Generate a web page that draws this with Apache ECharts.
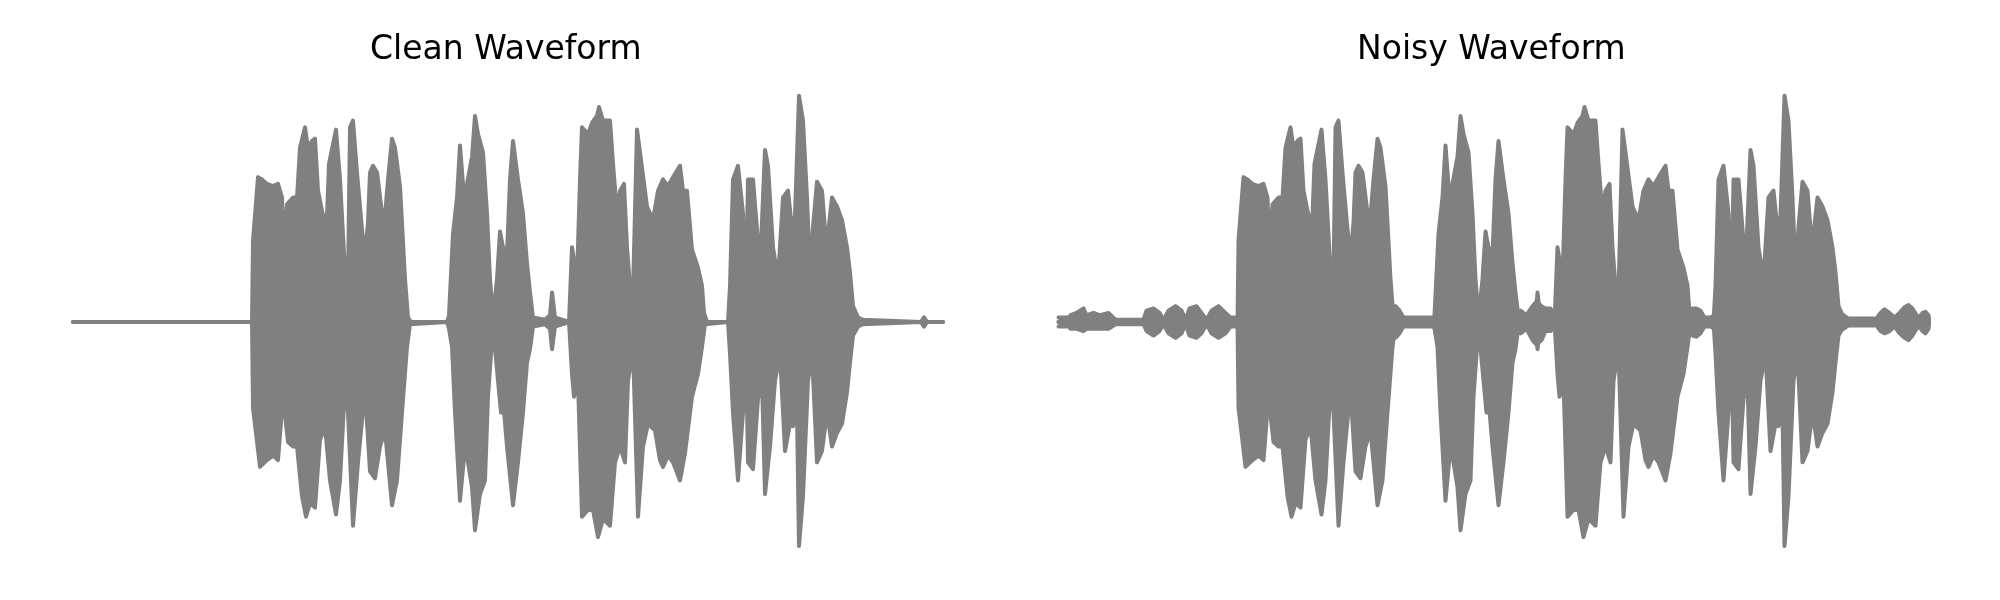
<!DOCTYPE html>
<html>
<head>
<meta charset="utf-8">
<script src="https://cdn.jsdelivr.net/npm/echarts@6/dist/echarts.min.js"></script>
<style>
  html, body { margin: 0; padding: 0; background: #ffffff; }
  #chart { width: 2000px; height: 600px; }
</style>
</head>
<body>
<div id="chart"></div>
<script>
// Panel titles
const titles = ['Clean Waveform', 'Noisy Waveform'];

// Time in frames (0..870); amplitude normalised to the peak (~1.0).
// Upper envelope of the clean speech waveform: [frame, amplitude]
const cleanUpper = [
  [0,0],[179,0],[180,0.36],[185,0.64],[189,0.63],[194,0.61],[200,0.60],[205,0.61],[209,0.55],[211,0.33],[214,0.52],[220,0.55],[224,0.55],
  [227,0.77],[232,0.86],[235,0.77],[239,0.80],[242,0.81],[245,0.58],[250,0.47],[254,0.47],[256,0.70],[263,0.85],[267,0.63],[272,0.22],
  [275,0.19],[277,0.86],[280,0.89],[284,0.66],[289,0.41],[292,0.29],[295,0.44],[297,0.66],[300,0.69],[304,0.66],[309,0.48],[312,0.47],
  [315,0.63],[319,0.81],[322,0.77],[327,0.60],[332,0.19],[335,0.02],[338,0],[374,0],[376,0.03],[380,0.39],[384,0.55],[387,0.78],
  [391,0.55],[394,0.61],[399,0.73],[402,0.91],[405,0.83],[410,0.75],[414,0.48],[417,0.19],[420,0.02],[424,0.19],[427,0.40],[430,0.33],
  [434,0.30],[437,0.63],[440,0.80],[445,0.63],[450,0.48],[454,0.26],[457,0.13],[460,0.02],[472,0.01],[477,0.03],[479,0.13],[480,0.13],
  [482,0.02],[496,0],[499,0.33],[501,0.33],[504,0.19],[507,0.63],[509,0.86],[515,0.83],[519,0.88],[524,0.91],[526,0.95],[530,0.89],
  [537,0.89],[540,0.70],[544,0.48],[547,0.58],[551,0.61],[554,0.33],[557,0.16],[560,0.13],[564,0.85],[567,0.75],[574,0.51],[580,0.45],
  [585,0.58],[590,0.63],[595,0.60],[600,0.64],[607,0.69],[610,0.58],[614,0.58],[619,0.32],[625,0.24],[629,0.16],[631,0.04],[634,0],
  [655,0],[657,0.16],[660,0.63],[665,0.69],[670,0.48],[673,0.13],[675,0.63],[680,0.63],[684,0.41],[687,0.24],[692,0.76],[695,0.69],
  [700,0.33],[705,0.19],[710,0.55],[715,0.58],[719,0.41],[722,0.47],[726,1.00],[730,0.89],[734,0.55],[737,0.22],[740,0.42],[744,0.62],
  [749,0.58],[752,0.41],[755,0.39],[759,0.55],[764,0.51],[769,0.45],[774,0.33],[777,0.22],[780,0.07],[785,0.02],[790,0.01],[848,0],
  [851,0.02],[854,0],[870,0]
];

// Lower envelope of the clean speech waveform: [frame, amplitude]
const cleanLower = [
  [0,0],[179,0],[180,-0.38],[187,-0.64],[194,-0.61],[200,-0.59],[205,-0.61],[210,-0.33],[215,-0.53],[220,-0.55],[224,-0.55],[229,-0.77],
  [233,-0.86],[237,-0.80],[242,-0.82],[247,-0.52],[252,-0.46],[257,-0.70],[263,-0.85],[267,-0.70],[273,-0.20],[275,-0.20],[280,-0.90],
  [285,-0.62],[292,-0.30],[297,-0.66],[302,-0.69],[307,-0.55],[312,-0.48],[319,-0.81],[324,-0.70],[329,-0.40],[334,-0.11],[337,-0.01],
  [374,0],[376,-0.03],[379,-0.11],[382,-0.40],[387,-0.79],[392,-0.55],[395,-0.62],[399,-0.73],[402,-0.92],[407,-0.76],[412,-0.70],
  [415,-0.33],[420,-0.02],[425,-0.26],[428,-0.40],[430,-0.34],[434,-0.55],[440,-0.81],[445,-0.62],[450,-0.40],[454,-0.18],[457,-0.12],
  [460,-0.02],[472,-0.01],[477,-0.03],[479,-0.12],[480,-0.12],[482,-0.02],[496,0],[499,-0.23],[501,-0.33],[505,-0.26],[509,-0.86],
  [515,-0.83],[520,-0.83],[525,-0.95],[530,-0.87],[537,-0.90],[542,-0.62],[547,-0.55],[552,-0.62],[555,-0.26],[560,-0.12],[565,-0.86],
  [570,-0.55],[575,-0.45],[582,-0.48],[587,-0.61],[590,-0.64],[595,-0.59],[600,-0.62],[607,-0.70],[612,-0.58],[619,-0.33],[625,-0.23],
  [629,-0.11],[632,-0.01],[655,0],[657,-0.14],[660,-0.40],[665,-0.70],[670,-0.40],[673,-0.11],[675,-0.62],[680,-0.65],[685,-0.34],
  [689,-0.26],[692,-0.76],[697,-0.55],[702,-0.26],[707,-0.14],[712,-0.57],[717,-0.45],[720,-0.46],[724,-0.40],[726,-0.99],[730,-0.77],
  [735,-0.26],[739,-0.14],[744,-0.62],[749,-0.57],[754,-0.40],[759,-0.55],[764,-0.49],[769,-0.45],[774,-0.31],[777,-0.18],[780,-0.06],
  [785,-0.02],[790,-0.01],[848,0],[851,-0.02],[854,0],[870,0]
];

// Added background noise visible in the silent gaps of the noisy recording
const noiseUpper = [
  [0,0.02],[10,0.02],[12,0.03],[18,0.04],[25,0.06],[28,0.03],[35,0.04],[41,0.03],[50,0.04],[57,0.01],[85,0.01],[88,0.05],[95,0.06],
  [101,0.04],[105,0.01],[110,0.05],[117,0.07],[123,0.05],[127,0.01],[131,0.06],[138,0.07],[143,0.04],[148,0.01],[153,0.05],[160,0.07],
  [167,0.04],[172,0.02],[181,0.02],[182,'-'],
  [333,0.05],[337,0.07],[341,0.05],[345,0.02],[360,0.02],[378,0.02],[379,'-'],
  [458,0.03],[462,0.05],[468,0.03],[474,0.07],[478,0.09],[483,0.07],[487,0.06],[492,0.06],[496,0.03],[499,0.02],[500,'-'],
  [630,0.05],[634,0.06],[638,0.06],[642,0.05],[646,0.02],[652,0.02],[656,0.03],[657,'-'],
  [778,0.05],[785,0.03],[790,0.015],[818,0.015],[822,0.04],[826,0.056],[831,0.04],[836,0.02],[841,0.04],[846,0.065],[850,0.075],
  [854,0.06],[858,0.03],[861,0.02],[864,0.04],[867,0.045],[870,0.03],[871,0]
];
const noiseLower = [
  [0,-0.02],[10,-0.02],[12,-0.03],[18,-0.03],[25,-0.04],[28,-0.03],[35,-0.03],[41,-0.03],[50,-0.03],[57,-0.01],[85,-0.01],[88,-0.04],
  [95,-0.06],[101,-0.04],[105,-0.01],[110,-0.05],[117,-0.07],[123,-0.05],[127,-0.01],[131,-0.06],[138,-0.07],[143,-0.05],[148,-0.01],
  [153,-0.05],[160,-0.07],[167,-0.05],[172,-0.02],[181,-0.02],[182,'-'],
  [333,-0.05],[337,-0.07],[341,-0.05],[345,-0.02],[360,-0.02],[378,-0.02],[379,'-'],
  [458,-0.03],[462,-0.05],[468,-0.03],[474,-0.08],[478,-0.10],[483,-0.08],[487,-0.04],[492,-0.04],[496,-0.02],[499,-0.02],[500,'-'],
  [630,-0.05],[634,-0.06],[638,-0.065],[642,-0.05],[646,-0.02],[652,-0.02],[656,-0.03],[657,'-'],
  [778,-0.05],[785,-0.03],[790,-0.015],[818,-0.015],[822,-0.04],[826,-0.05],[831,-0.04],[836,-0.02],[841,-0.05],[846,-0.07],[850,-0.08],
  [854,-0.06],[858,-0.03],[861,-0.02],[864,-0.04],[867,-0.05],[870,-0.03],[871,0]
];

const GRAY = '#808080';
function env(data, idx) {
  return {
    type: 'line',
    xAxisIndex: idx,
    yAxisIndex: idx,
    data: data,
    symbol: 'none',
    showSymbol: false,
    clip: false,
    connectNulls: false,
    silent: true,
    lineStyle: { color: GRAY, width: 4, join: 'round', cap: 'round' },
    areaStyle: { color: GRAY, opacity: 1, origin: 0 },
    z: 2
  };
}

const chart = echarts.init(document.getElementById('chart'), null, { renderer: 'canvas' });
const titleStyle = { fontFamily: 'DejaVu Sans', fontSize: 33, fontWeight: 'normal', color: '#000000' };
chart.setOption({
  animation: false,
  backgroundColor: '#ffffff',
  title: [
    { text: titles[0], left: 370, top: 34, padding: 0, textStyle: titleStyle },
    { text: titles[1], left: 1357, top: 34, padding: 0, textStyle: titleStyle }
  ],
  grid: [
    { left: 73, top: 73, width: 870, height: 498 },
    { left: 1058.5, top: 73, width: 870, height: 498 }
  ],
  xAxis: [
    { type: 'value', gridIndex: 0, min: 0, max: 870, show: false },
    { type: 'value', gridIndex: 1, min: 0, max: 870, show: false }
  ],
  yAxis: [
    { type: 'value', gridIndex: 0, min: -1.1, max: 1.1, show: false },
    { type: 'value', gridIndex: 1, min: -1.1, max: 1.1, show: false }
  ],
  series: [
    env(cleanUpper, 0), env(cleanLower, 0),
    env(cleanUpper, 1), env(cleanLower, 1),
    env(noiseUpper, 1), env(noiseLower, 1)
  ]
});
</script>
</body>
</html>
